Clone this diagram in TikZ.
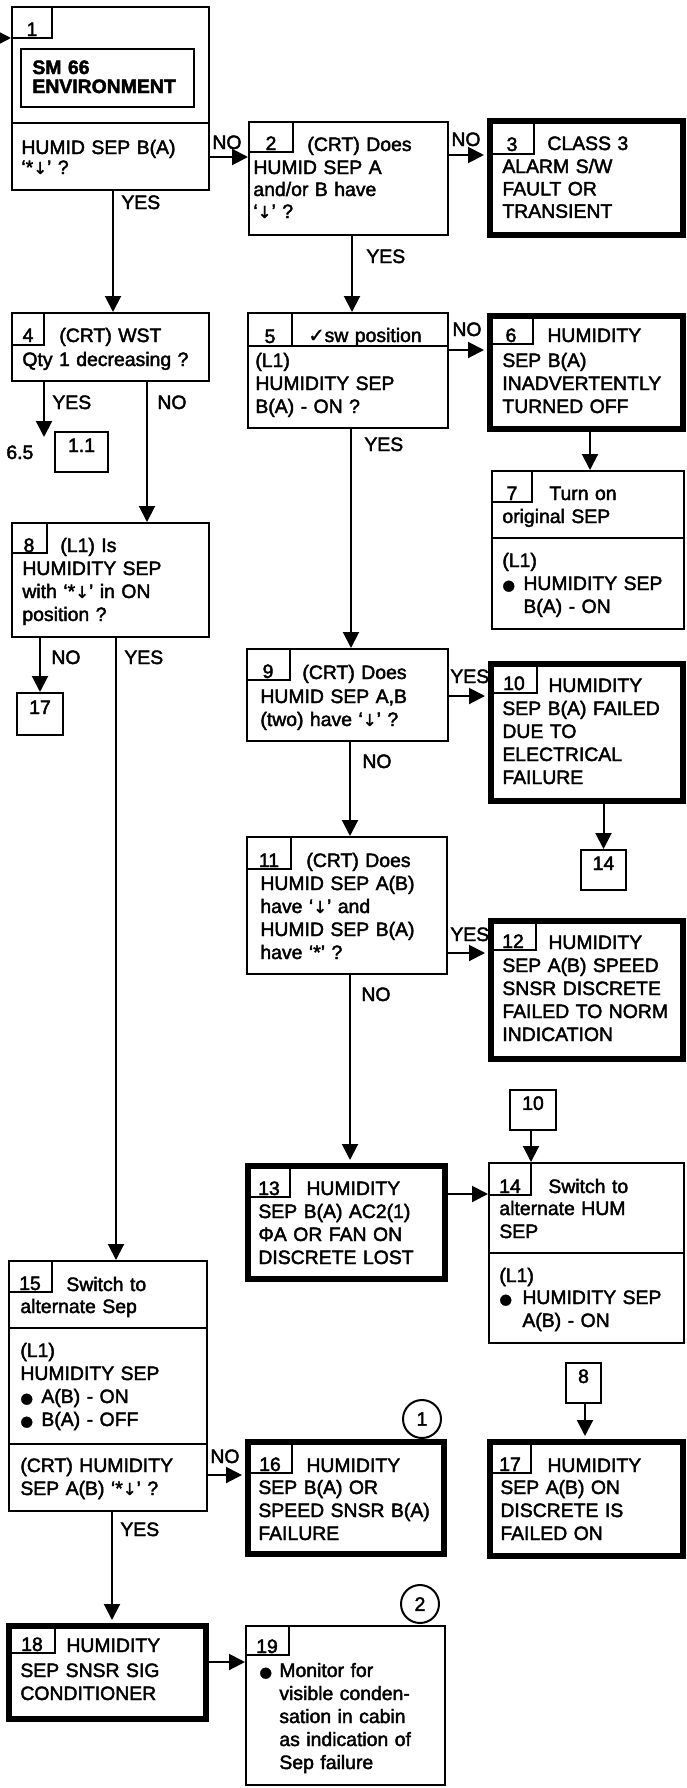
\documentclass[tikz,border=0pt]{standalone}
\usepackage{fontspec}
\setmainfont{Liberation Sans}[FakeBold=2.2]
\newfontfamily\symf{DejaVu Sans}[FakeBold=1.5]
\usetikzlibrary{arrows.meta,fit}
\newcommand\tf{\fontsize{9.7}{11.5}\selectfont}
\newcommand\dn{{\symf\scalebox{0.85}{↓}}}
\newcommand\bul{{\symf\scalebox{0.75}{●}}}
\newcommand\chk{{\symf ✓}}
\tikzset{
  box/.style={draw, line width=1pt, inner sep=0pt},
  tbox/.style={draw, line width=3pt, inner sep=0pt},
  tabline/.style={line width=1pt},
  txt/.style={anchor=base west, inner sep=0pt, text width=125pt, align=left, font=\tf},
  num/.style={anchor=base, inner sep=0pt, font=\tf},
  lab/.style={anchor=base west, inner sep=0pt, font=\tf},
  refbox/.style={draw, line width=1pt, inner sep=0pt, font=\tf},
  arr/.style={-{Triangle[length=8pt,width=8pt]}, line width=1pt},
  arrt/.style={arr, shorten >=1.5pt},
  circ/.style={draw, circle, line width=1pt, minimum size=19pt, inner sep=0pt, font=\tf}
}
\begin{document}
\begin{tikzpicture}[x=0.5pt,y=-0.5pt]
\fill[white] (0,0) rectangle (686,1788);
\useasboundingbox (0,0) rectangle (686,1788);

% ---------- boxes ----------
\node[box, fit={(12,7)(209,190)}] (b1) {};
\node[box, fit={(249,122)(448,235)}] (b2) {};
\node[tbox, fit={(490,121)(683,235)}] (b3) {};
\node[box, fit={(12,313)(209,381)}] (b4) {};
\node[box, fit={(248,313)(448,428)}] (b5) {};
\node[tbox, fit={(490,316)(683,429)}] (b6) {};
\node[box, fit={(492,471)(684,629)}] (b7) {};
\node[box, fit={(12,523)(209,637)}] (b8) {};
\node[box, fit={(247,649)(448,741)}] (b9) {};
\node[tbox, fit={(491,664)(683,801)}] (b10) {};
\node[box, fit={(247,837)(447,974)}] (b11) {};
\node[tbox, fit={(491,921)(683,1059)}] (b12) {};
\node[tbox, fit={(248,1166)(445,1279)}] (b13) {};
\node[box, fit={(489,1163)(684,1343)}] (b14) {};
\node[box, fit={(9,1261)(207,1511)}] (b15) {};
\node[tbox, fit={(248,1442)(444,1554)}] (b16) {};
\node[tbox, fit={(490,1442)(683,1556)}] (b17) {};
\node[tbox, fit={(9,1626)(206,1719)}] (b18) {};
\node[box, fit={(246,1626)(445,1785)}] (b19) {};

% reference boxes and circles
\node[refbox, fit={(55,432)(108,472)}] (r11) {1.1};
\node[refbox, fit={(17,693)(63,735)}] (r17) {17};
\node[refbox, fit={(581,850)(626,890)}] (r14) {14};
\node[refbox, fit={(510,1090)(556,1130)}] (r10) {10};
\node[refbox, fit={(566,1363)(601,1403)}] (r8) {8};
\node[circ] (c1) at (422,1419) {1};
\node[circ] (c2) at (420,1604) {2};

% ---------- tabs and dividers ----------
\draw[tabline] (12,38) -| (52,7);
\draw[tabline] (249,152) -| (293,122);
\draw[tabline] (490,154) -| (534,121);
\draw[tabline] (12,345) -| (44,313);
\draw[tabline] (292,346) -- (292,313);
\draw[tabline] (248,346) -- (448,346);
\draw[tabline] (490,344) -| (533,316);
\draw[tabline] (492,502) -| (532,471);
\draw[tabline] (12,553) -| (47,523);
\draw[tabline] (247,680) -| (290,649);
\draw[tabline] (491,693) -| (537,664);
\draw[tabline] (247,869) -| (291,837);
\draw[tabline] (491,950) -| (536,921);
\draw[tabline] (248,1197) -| (290,1166);
\draw[tabline] (489,1195) -| (531,1163);
\draw[tabline] (9,1292) -| (52,1261);
\draw[tabline] (248,1473) -| (292,1442);
\draw[tabline] (490,1473) -| (531,1442);
\draw[tabline] (9,1653) -| (55,1626);
\draw[tabline] (246,1655) -| (289,1626);
\draw[line width=1.2pt] (12,123) -- (209,123);
\draw[tabline] (492,538) -- (684,538);
\draw[tabline] (489,1253) -- (684,1253);
\draw[tabline] (9,1328) -- (207,1328);
\draw[tabline] (9,1444) -- (207,1444);

% ---------- texts ----------
% box 1
\node[num] (n1) at (32,36) {1};
\node[draw, line width=1.3pt, inner sep=0pt, fit={(21,49)(194,107)}] (env) {};
\node[txt, font=\fontsize{9.7}{9.5}\selectfont\bfseries] (tenv) at (32,74) {SM 66\\ENVIRONMENT};
\node[txt, font=\fontsize{9.7}{10}\selectfont] (t1) at (21,154) {HUMID SEP B(A)\\‘*\dn’ ?};
% box 2
\node[num] (n2) at (271,150) {2};
\node[txt] (h2) at (307,151) {(CRT) Does};
\node[txt, font=\fontsize{9.7}{11}\selectfont] (t2) at (253,174) {HUMID SEP A\\and/or B have\\‘\dn’ ?};
% box 3
\node[num] (n3) at (512,151) {3};
\node[txt] (h3) at (547,150) {CLASS 3};
\node[txt, font=\fontsize{9.7}{11.2}\selectfont] (t3) at (502,173) {ALARM S/W\\FAULT OR\\TRANSIENT};
% box 4
\node[num] (n4) at (28,342) {4};
\node[txt] (h4) at (59,342) {(CRT) WST};
\node[txt] (t4) at (22,366) {Qty 1 decreasing ?};
% box 5
\node[num] (n5) at (270,343) {5};
\node[txt] (h5) at (308,342) {\chk sw position};
\node[txt] (t5) at (255,367) {(L1)\\HUMIDITY SEP\\B(A) - ON ?};
% box 6
\node[num] (n6) at (511,342) {6};
\node[txt] (h6) at (547,342) {HUMIDITY};
\node[txt] (t6) at (502,367) {SEP B(A)\\INADVERTENTLY\\TURNED OFF};
% box 7
\node[num] (n7) at (512,500) {7};
\node[txt] (h7) at (549,500) {Turn on};
\node[txt] (t7) at (502,523) {original SEP};
\node[txt] (t7b) at (502,567) {(L1)};
\node[txt] (t7c) at (502,590) {\bul};
\node[txt] (t7d) at (523,590) {HUMIDITY SEP\\B(A) - ON};
% box 8
\node[num] (n8) at (29,552) {8};
\node[txt] (h8) at (60,552) {(L1) Is};
\node[txt] (t8) at (22,575) {HUMIDITY SEP\\with ‘*\dn’ in ON\\position ?};
% box 9
\node[num] (n9) at (268,678) {9};
\node[txt] (h9) at (302,679) {(CRT) Does};
\node[txt] (t9) at (260,703) {HUMID SEP A,B\\(two) have ‘\dn’ ?};
% box 10
\node[num] (n10) at (514,690) {10};
\node[txt] (h10) at (548,692) {HUMIDITY};
\node[txt] (t10) at (502,715) {SEP B(A) FAILED\\DUE TO\\ELECTRICAL\\FAILURE};
% box 11
\node[num] (n11) at (269,867) {11};
\node[txt] (h11) at (306,867) {(CRT) Does};
\node[txt] (t11) at (260,890) {HUMID SEP A(B)\\have ‘\dn’ and\\HUMID SEP B(A)\\have ‘*’ ?};
% box 12
\node[num] (n12) at (513,948) {12};
\node[txt] (h12) at (548,949) {HUMIDITY};
\node[txt] (t12) at (502,972) {SEP A(B) SPEED\\SNSR DISCRETE\\FAILED TO NORM\\INDICATION};
% box 13
\node[num] (n13) at (269,1195) {13};
\node[txt] (h13) at (306,1195) {HUMIDITY};
\node[txt] (t13) at (258,1218) {SEP B(A) AC2(1)\\ΦA OR FAN ON\\DISCRETE LOST};
% box 14
\node[num] (n14) at (510,1193) {14};
\node[txt] (h14) at (548,1193) {Switch to};
\node[txt] (t14) at (499,1215) {alternate HUM\\SEP};
\node[txt] (t14b) at (499,1282) {(L1)};
\node[txt] (t14c) at (499,1304) {\bul};
\node[txt] (t14d) at (522,1304) {HUMIDITY SEP\\A(B) - ON};
% box 15
\node[num] (n15) at (30,1290) {15};
\node[txt] (h15) at (66,1291) {Switch to};
\node[txt] (t15) at (20,1313) {alternate Sep};
\node[txt] (t15b) at (20,1357) {(L1)\\HUMIDITY SEP};
\node[txt] (t15c) at (20,1403) {\bul\\\bul};
\node[txt] (t15d) at (41,1403) {A(B) - ON\\B(A) - OFF};
\node[txt] (t15e) at (20,1472) {(CRT) HUMIDITY\\SEP A(B) ‘*\dn’ ?};
% box 16
\node[num] (n16) at (270,1471) {16};
\node[txt] (h16) at (306,1472) {HUMIDITY};
\node[txt] (t16) at (258,1494) {SEP B(A) OR\\SPEED SNSR B(A)\\FAILURE};
% box 17
\node[num] (n17) at (510,1471) {17};
\node[txt] (h17) at (547,1472) {HUMIDITY};
\node[txt] (t17) at (500,1494) {SEP A(B) ON\\DISCRETE IS\\FAILED ON};
% box 18
\node[num] (n18) at (32,1651) {18};
\node[txt] (h18) at (66,1652) {HUMIDITY};
\node[txt] (t18) at (20,1677) {SEP SNSR SIG\\CONDITIONER};
% box 19
\node[num] (n19) at (267,1653) {19};
\node[txt] (t19a) at (259,1677) {\bul};
\node[txt] (t19) at (279,1677) {Monitor for\\visible conden-\\sation in cabin\\as indication of\\Sep failure};

% ---------- connector labels ----------
\node[lab] (l1) at (212,149) {NO};
\node[lab] (l2) at (451,146) {NO};
\node[lab] (l3) at (121,209) {YES};
\node[lab] (l4) at (366,263) {YES};
\node[lab] (l5) at (52,409) {YES};
\node[lab] (l6) at (157,409) {NO};
\node[lab] (l65) at (6,459) {6.5};
\node[lab] (l7) at (452,336) {NO};
\node[lab] (l8) at (364,451) {YES};
\node[lab] (l9) at (51,664) {NO};
\node[lab] (l10) at (124,664) {YES};
\node[lab] (l11) at (450,683) {YES};
\node[lab] (l12) at (362,768) {NO};
\node[lab] (l13) at (450,941) {YES};
\node[lab] (l14) at (361,1001) {NO};
\node[lab] (l15) at (210,1463) {NO};
\node[lab] (l16) at (120,1536) {YES};

% ---------- connectors ----------
\coordinate (entry) at (0,38);
\coordinate (c65) at (44,437);
\draw[arr] (entry) -- (b1.west |- entry);
\draw[arr] (b1.east |- 0,157) -- (b2.west |- 0,157);
\draw[arrt] (b2.east |- 0,155) -- (b3.west |- 0,155);
\draw[arr] (b1.south -| 113,0) -- (b4.north -| 113,0);
\draw[arr] (b2.south -| 352,0) -- (b5.north -| 352,0);
\draw[arr] (b4.south -| c65) -- (c65);
\draw[arr] (b4.south -| 147,0) -- (b8.north -| 147,0);
\draw[arrt] (b5.east |- 0,350) -- (b6.west |- 0,350);
\draw[arr] (b5.south -| 351,0) -- (b9.north -| 351,0);
\draw[arr] (b6.south -| 590,0) -- (b7.north -| 590,0);
\draw[arr] (b8.south -| r17) -- (r17.north);
\draw[arr] (b8.south -| 116,0) -- (b15.north -| 116,0);
\draw[arrt] (b9.east |- 0,696) -- (b10.west |- 0,696);
\draw[arr] (b9.south -| 350,0) -- (b11.north -| 350,0);
\draw[arr] (b10.south -| r14) -- (r14.north);
\draw[arrt] (b11.east |- 0,953) -- (b12.west |- 0,953);
\draw[arrt] (b11.south -| 350,0) -- (b13.north -| 350,0);
\draw[arr] (b13.east |- 0,1194) -- (b14.west |- 0,1194);
\draw[arr] (r10.south -| 531,0) -- (b14.north -| 531,0);
\draw[arrt] (b15.east |- 0,1475) -- (b16.west |- 0,1475);
\draw[arrt] (b15.south -| 112,0) -- (b18.north -| 112,0);
\draw[arrt] (r8.south -| 585,0) -- (b17.north -| 585,0);
\draw[arr] (b18.east |- 0,1662) -- (b19.west |- 0,1662);
\end{tikzpicture}
\end{document}
